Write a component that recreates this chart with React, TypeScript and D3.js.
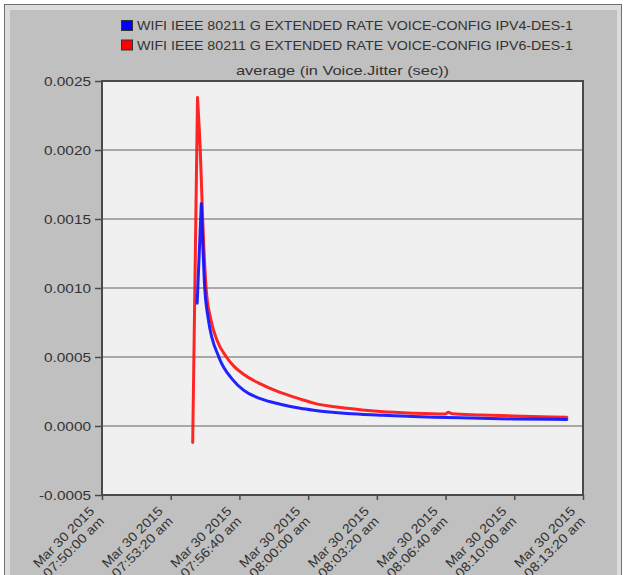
import * as d3 from 'd3';
import { useEffect, useRef } from 'react';

// legend / series names
const seriesNames = [
  'WIFI IEEE 80211 G EXTENDED RATE VOICE-CONFIG IPV4-DES-1',
  'WIFI IEEE 80211 G EXTENDED RATE VOICE-CONFIG IPV6-DES-1',
];
const seriesColors = ['#1010ff', '#ff1414'];

// IPv4 (blue) series
const ipv4Times = [
  '07:54:37', '07:54:49', '07:54:59', '07:55:09', '07:55:40', '07:56:19',
  '07:56:52', '07:57:41', '07:58:39', '07:59:37', '08:00:16', '08:01:53',
  '08:03:30', '08:05:06', '08:06:43', '08:08:21', '08:09:57', '08:12:33',
];
const ipv4Values = [
  0.00089, 0.00161, 0.001, 0.00078, 0.0005, 0.00034,
  0.00026, 0.000198, 0.000158, 0.000128, 0.000114, 0.00009,
  0.000078, 0.000068, 0.000062, 0.000056, 0.000051, 0.000048,
];

// IPv6 (red) series
const ipv6Times = [
  '07:54:24', '07:54:38', '07:54:46', '07:54:53', '07:55:03', '07:55:16',
  '07:55:35', '07:56:02', '07:56:25', '07:56:52', '07:57:41', '07:58:29',
  '07:59:37', '08:00:16', '08:01:53', '08:03:30', '08:05:06', '08:06:39',
  '08:06:48', '08:06:59', '08:08:21', '08:09:57', '08:12:33',
];
const ipv6Values = [
  -0.00012, 0.00238, 0.002, 0.0015, 0.001, 0.00078,
  0.00062, 0.0005, 0.00043, 0.000375, 0.000305, 0.000252,
  0.000195, 0.000166, 0.000128, 0.000105, 0.000093, 0.000087,
  0.0001, 0.000088, 0.00008, 0.000073, 0.000063,
];

// axis ticks
const xTicks = [
  '07:50:00', '07:53:20', '07:56:40', '08:00:00',
  '08:03:20', '08:06:40', '08:10:00', '08:13:20',
];
const yTicks = [-0.0005, 0, 0.0005, 0.001, 0.0015, 0.002, 0.0025];
const dateLabel = 'Mar 30 2015';
const chartTitle = 'average (in Voice.Jitter (sec))';

export default function App() {
  const ref = useRef<SVGSVGElement>(null);

  const width = 624;
  const height = 575;
  const plot = { left: 102, right: 583, top: 81, bottom: 495 };
  const font = '"Liberation Sans", Arial, sans-serif';
  const textColor = '#333';

  useEffect(() => {
    const svg = d3.select(ref.current);
    svg.selectAll('*').remove();

    const parse = d3.timeParse('%H:%M:%S');
    const x = d3
      .scaleTime()
      .domain([parse(xTicks[0])!, parse(xTicks[xTicks.length - 1])!])
      .range([plot.left, plot.right]);
    const y = d3
      .scaleLinear()
      .domain([yTicks[0], yTicks[yTicks.length - 1]])
      .range([plot.bottom, plot.top]);

    // panel frame with bevel
    svg.append('rect')
      .attr('x', 4.5).attr('y', 4.5)
      .attr('width', 617).attr('height', 600)
      .attr('fill', '#dcdcdc').attr('stroke', '#707070');
    svg.append('rect')
      .attr('x', 10).attr('y', 10)
      .attr('width', 607).attr('height', 600)
      .attr('fill', '#c0c0c0');

    // plot background
    svg.append('rect')
      .attr('x', plot.left).attr('y', plot.top)
      .attr('width', plot.right - plot.left)
      .attr('height', plot.bottom - plot.top)
      .attr('fill', '#f0f0f0');

    // horizontal gridlines
    svg.append('g')
      .selectAll('line')
      .data(yTicks.slice(1, -1))
      .enter()
      .append('line')
      .attr('x1', plot.left).attr('x2', plot.right)
      .attr('y1', (d) => y(d)).attr('y2', (d) => y(d))
      .attr('stroke', '#a8a8a8')
      .attr('stroke-width', 2);

    // series lines: straight rise to the peak, smooth decay after it
    const rise = d3
      .line<[Date, number]>()
      .x((d) => x(d[0]))
      .y((d) => y(d[1]));
    const decay = d3
      .line<[Date, number]>()
      .curve(d3.curveMonotoneX)
      .x((d) => x(d[0]))
      .y((d) => y(d[1]));
    const series: [Date, number][][] = [
      ipv4Times.map((t, i) => [parse(t)!, ipv4Values[i]]),
      ipv6Times.map((t, i) => [parse(t)!, ipv6Values[i]]),
    ];
    // red drawn first, blue on top
    [1, 0].forEach((k) => {
      const pts = series[k];
      const peak = d3.maxIndex(pts, (d) => d[1]);
      const d1 = rise(pts.slice(0, peak + 1)) || '';
      const d2 = (decay(pts.slice(peak)) || '').replace(/^M/, 'L');
      svg.append('path')
        .attr('d', d1 + d2)
        .attr('fill', 'none')
        .attr('stroke', seriesColors[k])
        .attr('stroke-width', 3)
        .attr('stroke-linejoin', 'round')
        .attr('stroke-linecap', 'round')
        .attr('stroke-opacity', 0.92);
    });

    // plot border
    svg.append('rect')
      .attr('x', plot.left).attr('y', plot.top)
      .attr('width', plot.right - plot.left)
      .attr('height', plot.bottom - plot.top)
      .attr('fill', 'none')
      .attr('stroke', '#4a4a4a')
      .attr('stroke-width', 2);

    // y axis
    const yAxis = d3
      .axisLeft(y)
      .tickValues(yTicks)
      .tickSize(7)
      .tickSizeOuter(0)
      .tickFormat((d) => d3.format('.4f')(d as number).replace('−', '-'));
    const yg = svg.append('g')
      .attr('transform', `translate(${plot.left},0)`)
      .call(yAxis);
    yg.select('.domain').remove();
    yg.selectAll('line').attr('stroke', '#4a4a4a').attr('stroke-width', 1.5);
    yg.selectAll('text')
      .attr('x', -11)
      .attr('fill', textColor)
      .style('font-family', font)
      .style('font-size', '13px')
      .attr('textLength', (d) => ((d as number) < 0 ? 52 : 47))
      .attr('lengthAdjust', 'spacingAndGlyphs');

    // x axis
    const xAxis = d3
      .axisBottom(x)
      .tickValues(xTicks.map((t) => parse(t)!))
      .tickSize(5)
      .tickSizeOuter(0)
      .tickFormat(() => '');
    const xg = svg.append('g')
      .attr('transform', `translate(0,${plot.bottom})`)
      .call(xAxis);
    xg.select('.domain').remove();
    xg.selectAll('line').attr('stroke', '#4a4a4a').attr('stroke-width', 1.5);

    // two-line rotated time labels
    const timeFmt = d3.timeFormat('%I:%M:%S %p');
    const labels = svg.append('g')
      .selectAll('text')
      .data(xTicks.map((t) => parse(t)!))
      .enter()
      .append('text')
      .attr('transform', (d) => `translate(${x(d) - 7},${plot.bottom + 17}) rotate(-45)`)
      .attr('text-anchor', 'end')
      .attr('fill', textColor)
      .style('font-family', font)
      .style('font-size', '13px');
    labels.append('tspan')
      .attr('x', 0)
      .attr('textLength', 80)
      .attr('lengthAdjust', 'spacingAndGlyphs')
      .text(dateLabel);
    labels.append('tspan')
      .attr('x', 0)
      .attr('dy', 14)
      .attr('textLength', 80)
      .attr('lengthAdjust', 'spacingAndGlyphs')
      .text((d) => timeFmt(d).toLowerCase());

    // title
    svg.append('text')
      .attr('x', (plot.left + plot.right) / 2)
      .attr('y', 75)
      .attr('text-anchor', 'middle')
      .attr('fill', textColor)
      .style('font-family', font)
      .style('font-size', '13px')
      .attr('textLength', 213)
      .attr('lengthAdjust', 'spacingAndGlyphs')
      .text(chartTitle);

    // legend
    const legend = svg.append('g')
      .selectAll('g')
      .data(seriesNames)
      .enter()
      .append('g')
      .attr('transform', (d, i) => `translate(121,${20 + i * 19.5})`);
    legend.append('rect')
      .attr('x', 0.5).attr('y', 0.5)
      .attr('width', 11).attr('height', 10)
      .attr('fill', (d, i) => (i === 0 ? '#0000ff' : '#ff0000'))
      .attr('stroke', '#333');
    legend.append('text')
      .attr('x', 16)
      .attr('y', 10)
      .attr('fill', textColor)
      .style('font-family', font)
      .style('font-size', '13px')
      .attr('textLength', 436)
      .attr('lengthAdjust', 'spacingAndGlyphs')
      .text((d) => d);
  }, []);

  return (
    <svg
      ref={ref}
      width={width}
      height={height}
      style={{ position: 'absolute', left: 0, top: 0, background: '#fff' }}
    />
  );
}
